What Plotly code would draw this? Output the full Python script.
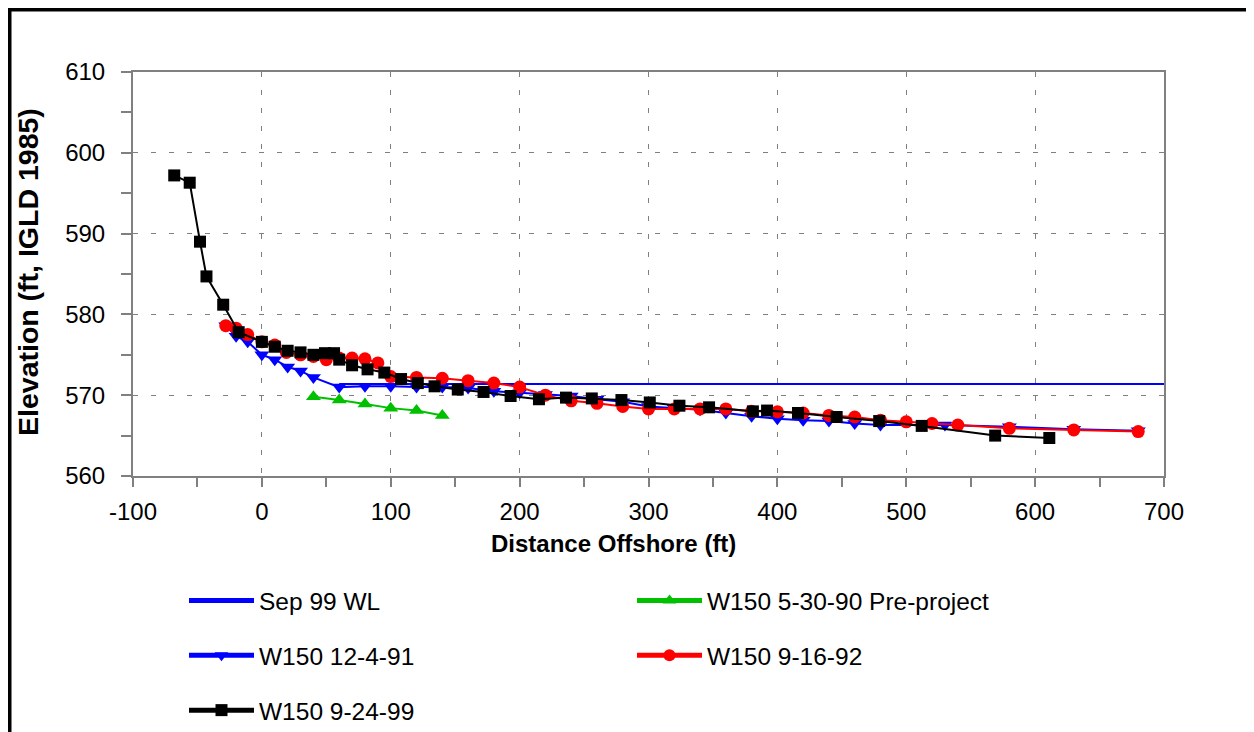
import plotly.graph_objects as go

# ---- data ----
wl_x = [60, 700]
wl_y = [571.4, 571.4]

pre_x = [40, 60, 80, 100, 120, 140]
pre_y = [569.8, 569.4, 568.9, 568.4, 568.1, 567.5]

s91_x = [-28, -20, -11, 0, 10, 20, 30, 40, 60, 80, 100, 120, 140, 160, 180, 200, 220, 240,
         260, 280, 300, 320, 340, 360, 380, 400, 420, 440, 460, 480, 530, 580, 630, 680]
s91_y = [578.6, 577.3, 576.6, 575.0, 574.4, 573.5, 573.0, 572.2, 571.0, 571.1, 571.1, 571.0,
         571.0, 570.9, 570.5, 570.3, 570.1, 569.9, 569.5, 569.2, 568.6, 568.4, 568.2, 567.8,
         567.4, 567.1, 566.9, 566.8, 566.5, 566.3, 566.3, 566.1, 565.8, 565.6]

s92_x = [-28, -20, -11, 0, 10, 19, 30, 40, 50, 60, 70, 80, 90, 100, 120, 140, 160, 180, 200,
         220, 240, 260, 280, 300, 320, 340, 360, 380, 400, 420, 440, 460, 480, 500, 520, 540,
         580, 630, 680]
s92_y = [578.6, 578.3, 577.5, 576.6, 576.2, 575.3, 575.0, 574.8, 574.4, 574.6, 574.6, 574.5,
         574.0, 572.3, 572.2, 572.1, 571.8, 571.5, 571.0, 570.0, 569.3, 569.0, 568.6, 568.3,
         568.3, 568.3, 568.3, 568.0, 567.95, 567.8, 567.5, 567.3, 566.9, 566.7, 566.5, 566.3,
         565.9, 565.7, 565.5]

s99_x = [-68, -56, -48, -43, -30, -18, 0, 10, 20, 30, 40, 49, 56, 60, 70, 82, 95, 108, 121,
         134, 152, 172, 193, 215, 236, 256, 279, 301, 324, 347, 381, 392, 416, 446, 479, 512,
         569, 611]
s99_y = [597.2, 596.3, 589.0, 584.7, 581.2, 577.8, 576.6, 576.0, 575.5, 575.3, 575.0, 575.2,
         575.2, 574.4, 573.7, 573.2, 572.8, 572.0, 571.5, 571.1, 570.7, 570.4, 569.9, 569.5,
         569.7, 569.6, 569.4, 569.1, 568.7, 568.5, 568.0, 568.1, 567.8, 567.3, 566.8, 566.2,
         565.0, 564.7]

x_tickvals = [-100, 0, 100, 200, 300, 400, 500, 600, 700]
x_ticktext = ["-100", "0", "100", "200", "300", "400", "500", "600", "700"]
y_tickvals = [560, 570, 580, 590, 600, 610]
y_ticktext = ["560", "570", "580", "590", "600", "610"]

x_range = [-100, 700]
y_range = [560, 610]

FONT = "Liberation Sans, Arial, sans-serif"
GREY = "#808080"

# page geometry (the figure div sits 8px in from the page corner)
OFF = 8
FIG_W, FIG_H = 1254 - OFF, 732 - OFF
L, R, T, B = 133, 1164, 72, 476          # plot area in page pixels
PW, PH = R - L, B - T


def px_x(p):
    return (p - L) / PW


def px_y(p):
    return (B - p) / PH


fig = go.Figure()

fig.add_trace(go.Scatter(x=wl_x, y=wl_y, mode="lines", name="Sep 99 WL",
                         line=dict(color="#0000FF", width=2),
                         legend="legend", legendgroup="a"))
fig.add_trace(go.Scatter(x=pre_x, y=pre_y, mode="lines+markers", name="W150 5-30-90 Pre-project",
                         line=dict(color="#00C000", width=2),
                         marker=dict(symbol="triangle-up", size=13, color="#00C000"),
                         legend="legend2", legendgroup="b"))
fig.add_trace(go.Scatter(x=s91_x, y=s91_y, mode="lines+markers", name="W150 12-4-91",
                         line=dict(color="#0000FF", width=2),
                         marker=dict(symbol="triangle-down", size=13, color="#0000FF"),
                         legend="legend", legendgroup="c"))
fig.add_trace(go.Scatter(x=s92_x, y=s92_y, mode="lines+markers", name="W150 9-16-92",
                         line=dict(color="#FF0000", width=2),
                         marker=dict(symbol="circle", size=13, color="#FF0000"),
                         legend="legend2", legendgroup="d"))
fig.add_trace(go.Scatter(x=s99_x, y=s99_y, mode="lines+markers", name="W150 9-24-99",
                         line=dict(color="#000000", width=2),
                         marker=dict(symbol="square", size=12, color="#000000"),
                         legend="legend", legendgroup="e"))

legend_common = dict(font=dict(family=FONT, size=24.5, color="#000000"),
                     bgcolor="rgba(0,0,0,0)", tracegroupgap=20, itemsizing="constant",
                     itemwidth=65, xanchor="left", yanchor="top", traceorder="grouped")

fig.update_layout(
    width=FIG_W, height=FIG_H,
    margin=dict(l=L - OFF, r=FIG_W - (R - OFF), t=T - OFF, b=FIG_H - (B - OFF),
                pad=0, autoexpand=False),
    paper_bgcolor="white", plot_bgcolor="white",
    font=dict(family=FONT, size=24, color="#000000"),
    showlegend=True,
    legend=dict(x=px_x(184), y=px_y(578), **legend_common),
    legend2=dict(x=px_x(632), y=px_y(578), **legend_common),
    xaxis=dict(range=x_range, tickmode="array", tickvals=x_tickvals, ticktext=x_ticktext,
               showgrid=True, gridcolor=GREY, gridwidth=1, griddash="5px,13px",
               zeroline=False, showline=True, linecolor=GREY, linewidth=2, mirror=True,
               ticks="outside", ticklen=9, tickwidth=1.5, tickcolor=GREY,
               minor=dict(dtick=50, tick0=0, ticks="outside", ticklen=9, tickwidth=1.5,
                          tickcolor=GREY, showgrid=False),
               tickfont=dict(family=FONT, size=24), ticklabelstandoff=4),
    yaxis=dict(range=y_range, tickmode="array", tickvals=y_tickvals, ticktext=y_ticktext,
               showgrid=True, gridcolor=GREY, gridwidth=1, griddash="5px,13px",
               zeroline=False, showline=True, linecolor=GREY, linewidth=2, mirror=True,
               ticks="outside", ticklen=10, tickwidth=1.5, tickcolor=GREY,
               minor=dict(dtick=5, tick0=560, ticks="outside", ticklen=10, tickwidth=1.5,
                          tickcolor=GREY, showgrid=False),
               tickfont=dict(family=FONT, size=24), ticklabelstandoff=11),
    xaxis2=dict(range=x_range, overlaying="x", anchor="y", side="bottom", matches="x",
                dtick=50, tick0=0, ticks="inside", ticklen=8, tickwidth=1.5, tickcolor=GREY,
                showticklabels=False, showgrid=False, zeroline=False, showline=False),
    yaxis2=dict(range=y_range, overlaying="y", anchor="x", side="left", matches="y",
                dtick=5, tick0=560, ticks="inside", ticklen=10, tickwidth=1.5, tickcolor=GREY,
                showticklabels=False, showgrid=False, zeroline=False, showline=False),
    annotations=[
        dict(text="<b>Distance Offshore (ft)</b>", xref="paper", yref="paper",
             x=px_x(613), y=px_y(543), xanchor="center", yanchor="middle",
             showarrow=False, font=dict(family=FONT, size=24)),
        dict(text="<b>Elevation (ft, IGLD 1985)</b>", xref="paper", yref="paper",
             x=px_x(28), y=px_y(272), xanchor="center", yanchor="middle", textangle=-90,
             showarrow=False, font=dict(family=FONT, size=28.5)),
    ],
    shapes=[
        dict(type="rect", xref="paper", yref="paper",
             x0=px_x(9.5), x1=px_x(1249), y0=px_y(745), y1=px_y(9.5),
             line=dict(color="#000000", width=4), fillcolor="rgba(0,0,0,0)", layer="above"),
    ],
)

fig.write_html("out.html")
